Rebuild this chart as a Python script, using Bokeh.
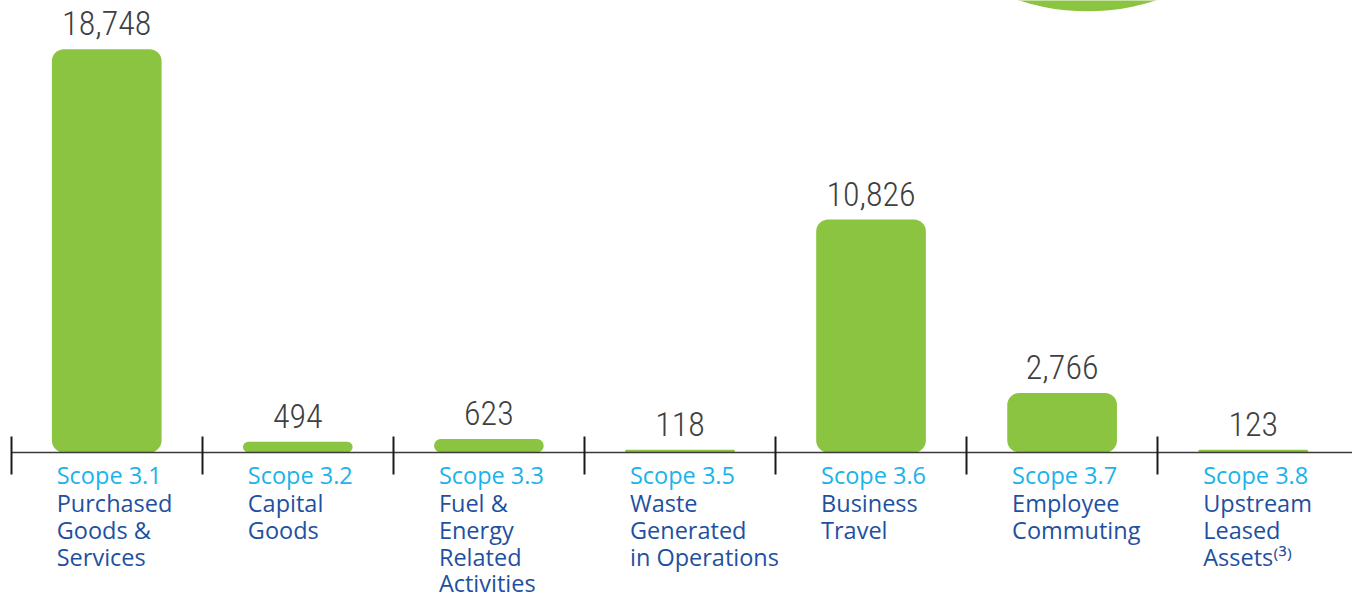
from bokeh.plotting import figure
from bokeh.models import ColumnDataSource, Range1d, FixedTicker, CustomJSTickFormatter
from bokeh.core.properties import value
from bokeh.embed import file_html
from bokeh.resources import INLINE

# ---- data ----
scopes = ["Scope 3.1", "Scope 3.2", "Scope 3.3", "Scope 3.5", "Scope 3.6", "Scope 3.7", "Scope 3.8"]
names = [
    "Purchased\nGoods &\nServices",
    "Capital\nGoods",
    "Fuel &\nEnergy\nRelated\nActivities",
    "Waste\nGenerated\nin Operations",
    "Business\nTravel",
    "Employee\nCommuting",
    "Upstream\nLeased\nAssets\u207d\u00b3\u207e",
]
emissions = [18748, 494, 623, 118, 10826, 2766, 123]

idx = list(range(len(scopes)))
src = ColumnDataSource(dict(
    x=idx,
    v=emissions,
    zero=[0] * len(idx),
    label=[f"{v:,}" for v in emissions],
    scope=scopes,
    name=names,
))

GREEN = "#8bc441"
CYAN = "#1ab3ea"
BLUE = "#1f50a0"

p = figure(width=1352, height=595, output_backend="svg", toolbar_location=None,
           x_range=Range1d(-0.5559, 6.5197), y_range=Range1d(-6654, 21013),
           min_border=0, outline_line_color=None, y_axis_location=None)
p.grid.visible = False
p.background_fill_color = "white"
p.border_fill_color = "white"

# decorative fragment of a green disc at the top right (part of the original page)
p.circle(x=[5.133], y=[30931], radius=224, radius_units="screen",
         fill_color=GREEN, line_color=None)

p.vbar(x="x", top="v", bottom="zero", width=0.574, source=src,
       fill_color=GREEN, line_color=None, border_radius=12)

VALUE_FONT = ("Noto Sans Condensed Light, Roboto Condensed Light, Noto Sans Condensed, "
              "Roboto Condensed, DejaVu Sans Condensed, Liberation Sans Narrow, sans-serif")

# value labels
p.text(x="x", y="v", text="label", source=src, text_align="center",
       text_baseline="alphabetic", y_offset=-26,
       text_font=value(VALUE_FONT), text_font_size="34px",
       text_color="#404040")

# category labels
p.text(x="x", y="zero", text="scope", source=src, text_align="left",
       text_baseline="middle", x_offset=-50, y_offset=23,
       text_font=value("Open Sans"), text_font_size="23.5px", text_color=CYAN)
p.text(x="x", y="zero", text="name", source=src, text_align="left",
       text_baseline="top", x_offset=-50, y_offset=35, text_line_height=0.831,
       text_font=value("Open Sans"), text_font_size="23.5px", text_color=BLUE)

ax = p.xaxis[0]
ax.fixed_location = 0
ax.ticker = FixedTicker(ticks=[i - 0.5 for i in idx])
ax.formatter = CustomJSTickFormatter(code="return ''")
ax.bounds = (-0.5, 7)
ax.major_tick_in = 16
ax.major_tick_out = 22
ax.major_tick_line_color = "#1a1a1a"
ax.major_tick_line_width = 2
ax.minor_tick_line_color = None
ax.axis_line_color = "#3a3a3a"
ax.axis_line_width = 1.5

open("out.html", "w").write(file_html(p, INLINE))
